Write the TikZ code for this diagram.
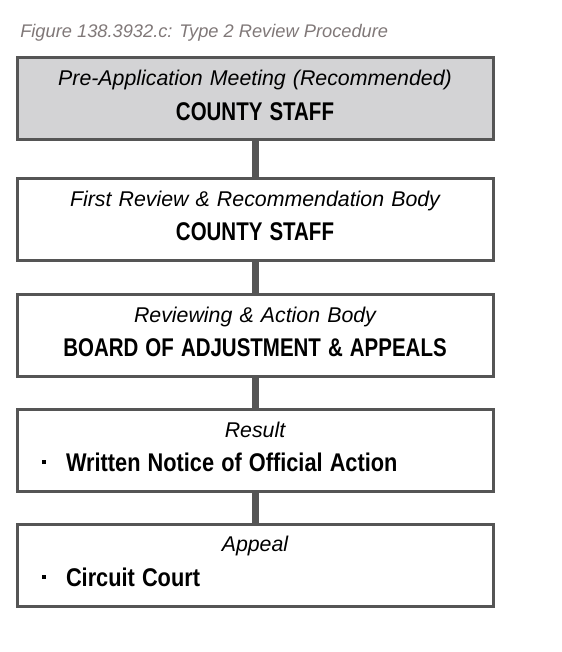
\documentclass[tikz,border=0pt]{standalone}
\usepackage{fontspec}
\setmainfont{Liberation Sans}
\newfontfamily\capsfont{Liberation Sans Bold}[FakeStretch=0.8]
\newfontfamily\itemfont{Liberation Sans Bold}[FakeStretch=0.85]
\usetikzlibrary{positioning}
\definecolor{figgray}{RGB}{211,211,213}
\definecolor{figline}{RGB}{85,85,85}
\definecolor{figtitle}{RGB}{128,120,120}
\newcommand{\stagetext}[2]{{\itshape #1}\\{\capsfont\fontsize{19.2}{26}\selectfont #2}\rule[-5.5pt]{0pt}{5.5pt}}
\newcommand{\bulletline}[1]{\makebox[\linewidth][l]{\hspace{18.75pt}\rule[0.3em]{3pt}{3pt}\hspace{15pt}{\itemfont #1}}}
\tikzset{
  stagebox/.style={draw=figline, line width=2.25pt, fill=white, minimum width=357pt, minimum height=61.5pt, text width=357pt, inner sep=0pt, align=center, font=\fontsize{16}{26}\selectfont},
  joinline/.style={draw=figline, line width=5.25pt},
  figcaption/.style={font=\fontsize{13.7}{16}\selectfont\itshape, text=figtitle, inner sep=0pt}
}
\begin{document}
\begin{tikzpicture}[x=0.75pt,y=-0.75pt]
  \useasboundingbox (0,0) rectangle (561,652);
  \node[figcaption, anchor=base west] (caption) at (20,38) {Figure 138.3932.c: Type 2 Review Procedure};

  \node[stagebox, fill=figgray] (premeet) at (255,99) {\stagetext{Pre-Application Meeting (Recommended)}{COUNTY STAFF}};
  \node[stagebox] (firstrev) at (255,219.5) {\stagetext{First Review \& Recommendation Body}{COUNTY STAFF}};
  \node[stagebox] (action) at (255,335.5) {\stagetext{Reviewing \& Action Body}{BOARD OF ADJUSTMENT \& APPEALS}};
  \node[stagebox] (result) at (255,450.5) {\stagetext{Result}{\bulletline{Written Notice of Official Action}}};
  \node[stagebox] (appeal) at (255,565) {\stagetext{Appeal}{\bulletline{Circuit Court}}};

  \draw[joinline] (premeet.south) -- (firstrev.north);
  \draw[joinline] (firstrev.south) -- (action.north);
  \draw[joinline] (action.south) -- (result.north);
  \draw[joinline] (result.south) -- (appeal.north);
\end{tikzpicture}
\end{document}
